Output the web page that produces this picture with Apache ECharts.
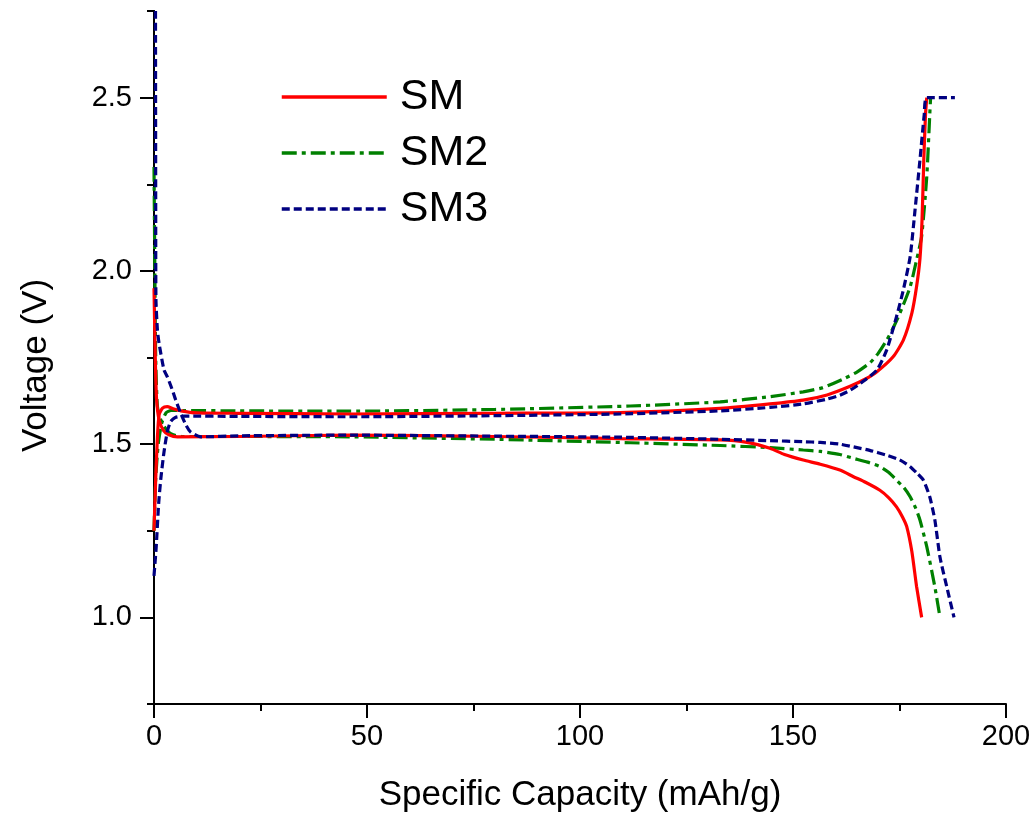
<!DOCTYPE html>
<html>
<head>
<meta charset="utf-8">
<script src="https://cdn.jsdelivr.net/npm/echarts@6/dist/echarts.min.js"></script>
<style>
html,body{margin:0;padding:0;background:#fff;}
#chart{width:1036px;height:816px;}
</style>
</head>
<body>
<div id="chart"></div>
<script>
// ---- data (x: mAh/g, y: V) ----
const seriesNames = ['SM', 'SM2', 'SM3'];
const xTicks = [0, 50, 100, 150, 200];
const yMajorTicks = [1.0, 1.5, 2.0, 2.5];
const yMinorTicks = [0.75, 1.25, 1.75, 2.25, 2.75];

const smCharge = [[0,1.25],[0.4,1.4],[0.8,1.52],[1.2,1.585],[2,1.604],[3.1,1.608],[4.5,1.602],[6.3,1.596],[10,1.590],[20,1.589],[46,1.587],[80,1.589],[109.4,1.591],[132.9,1.603],[144.6,1.616],[152.4,1.627],[158,1.642],[163.4,1.667],[167,1.688],[169.7,1.709],[173.5,1.752],[175.9,1.8],[177.9,1.878],[179,1.954],[179.8,2.035],[180.3,2.15],[180.7,2.32],[181.1,2.45],[181.4,2.5]];
const smDischarge = [[0,1.95],[0.3,1.75],[0.6,1.63],[1.2,1.57],[2.2,1.54],[3.5,1.527],[5.5,1.521],[20,1.522],[46,1.526],[80,1.522],[109.4,1.516],[132.9,1.512],[139.2,1.505],[144.6,1.488],[148,1.47],[152.4,1.454],[156.4,1.442],[161,1.425],[164.2,1.406],[167,1.39],[170.4,1.367],[172.5,1.345],[174.3,1.319],[175.7,1.29],[176.7,1.262],[177.9,1.19],[179,1.09],[180.2,1.0]];

const sm2Charge = [[0,1.25],[0.4,1.4],[1.0,1.5],[1.8,1.56],[2.8,1.59],[4,1.597],[7,1.597],[20,1.596],[46,1.595],[80,1.6],[111.8,1.61],[132.9,1.622],[144.6,1.637],[152.4,1.651],[157,1.663],[161.8,1.688],[165,1.708],[168.1,1.735],[170,1.762],[172,1.8],[173.7,1.84],[175.1,1.878],[177.5,1.954],[179,2.031],[180.2,2.1],[181.4,2.272],[182.1,2.45],[182.3,2.5]];
const sm2Discharge = [[0,2.3],[0.2,2.0],[0.4,1.75],[0.8,1.61],[1.6,1.57],[3,1.54],[4.5,1.527],[6.5,1.522],[20,1.522],[46,1.521],[80,1.514],[111.8,1.504],[132.9,1.496],[144.6,1.49],[152.4,1.483],[156.4,1.479],[161,1.47],[164.2,1.459],[167.5,1.448],[170.4,1.435],[172.5,1.418],[174.3,1.396],[176,1.375],[177.5,1.348],[178.8,1.315],[179.8,1.281],[181.4,1.204],[183.3,1.088],[184.5,1.0]];

const sm3Charge = [[0,1.12],[0.5,1.2],[1.1,1.33],[1.6,1.4],[2.3,1.473],[3.1,1.535],[3.9,1.565],[5,1.577],[7,1.581],[20,1.58],[46,1.579],[80,1.582],[109.4,1.587],[132.9,1.596],[144.6,1.606],[152.4,1.616],[158,1.63],[161,1.641],[163.5,1.656],[165.8,1.675],[169.7,1.714],[172,1.772],[174.3,1.868],[175.9,1.945],[177.5,2.041],[178.6,2.17],[179.8,2.32],[180.8,2.45],[181.4,2.5],[188,2.5]];
const sm3Discharge = [[0.35,2.75],[0.4,2.2],[0.45,1.92],[0.8,1.83],[1.2,1.79],[2.35,1.714],[3.1,1.695],[4.2,1.66],[5.1,1.627],[6.3,1.588],[7.5,1.555],[8.6,1.535],[11,1.521],[20,1.524],[46,1.526],[80,1.523],[109.4,1.52],[132.9,1.514],[144.6,1.51],[152.4,1.507],[156.4,1.505],[161,1.5],[164.2,1.492],[168,1.482],[172,1.468],[175,1.455],[177.5,1.435],[179.2,1.415],[180.6,1.396],[182.1,1.348],[183.3,1.281],[184.5,1.174],[186.1,1.088],[187.8,1.0]];

const colors = {SM:'#ff0000', SM2:'#008000', SM3:'#000080'};
const dashes = {SM:'solid', SM2:[15,5,4,5], SM3:[8,4]};
const zs = {SM:3, SM2:2, SM3:4};
const dataMap = {
  SM:[smCharge, smDischarge],
  SM2:[sm2Charge, sm2Discharge],
  SM3:[sm3Charge, sm3Discharge]
};

const series = [];
seriesNames.forEach(function(n){
  dataMap[n].forEach(function(d){
    series.push({
      name:n, type:'line', data:d, symbol:'none', showSymbol:false,
      smooth:0.2,
      z: zs[n],
      color: colors[n],
      lineStyle:{color:colors[n], width:3.2, type:dashes[n]},
      animation:false
    });
  });
});

const font = 'Liberation Sans, Arial, sans-serif';
const chart = echarts.init(document.getElementById('chart'), null, {renderer:'canvas'});
chart.setOption({
  backgroundColor:'#ffffff',
  animation:false,
  grid:{left:154, right:30, top:11, bottom:112, containLabel:false, outerBoundsMode:'none'},
  legend:{
    data:seriesNames,
    orient:'vertical',
    left:280, top:75, padding:0,
    itemWidth:105, itemHeight:14, itemGap:12,
    itemStyle:{opacity:0, borderWidth:0},
    lineStyle:{width:3.5},
    textStyle:{fontFamily:font, fontSize:43, color:'#000', lineHeight:44, padding:[0,0,0,8]},
    selectedMode:false
  },
  xAxis:{
    type:'value', min:0, max:200, interval:50,
    name:'Specific Capacity (mAh/g)', nameLocation:'middle', nameGap:74,
    nameTextStyle:{fontFamily:font, fontSize:35, color:'#000'},
    axisLine:{show:true, lineStyle:{color:'#000', width:2}},
    axisTick:{show:true, inside:false, length:14, lineStyle:{color:'#000', width:2}},
    minorTick:{show:true, splitNumber:2, length:7, lineStyle:{color:'#000', width:2}},
    axisLabel:{fontFamily:font, fontSize:29, color:'#000', margin:18},
    splitLine:{show:false}, minorSplitLine:{show:false}
  },
  yAxis:[{
    type:'value', min:0.75, max:2.75,
    name:'Voltage (V)', nameLocation:'middle', nameGap:100,
    nameTextStyle:{fontFamily:font, fontSize:35, color:'#000', padding:[0,16,0,0]},
    axisLine:{show:true, lineStyle:{color:'#000', width:2}},
    axisTick:{show:true, inside:false, length:14, customValues:yMajorTicks, lineStyle:{color:'#000', width:2}},
    axisLabel:{fontFamily:font, fontSize:29, color:'#000', margin:22, customValues:yMajorTicks,
      formatter:function(v){return Number(v).toFixed(1);}},
    splitLine:{show:false}
  },{
    type:'value', min:0.75, max:2.75, position:'left', offset:0,
    axisLine:{show:true, lineStyle:{color:'#000', width:2}},
    axisTick:{show:true, inside:false, length:7, customValues:yMinorTicks, lineStyle:{color:'#000', width:2}},
    axisLabel:{show:false},
    splitLine:{show:false}
  }],
  series:series
});
</script>
</body>
</html>
